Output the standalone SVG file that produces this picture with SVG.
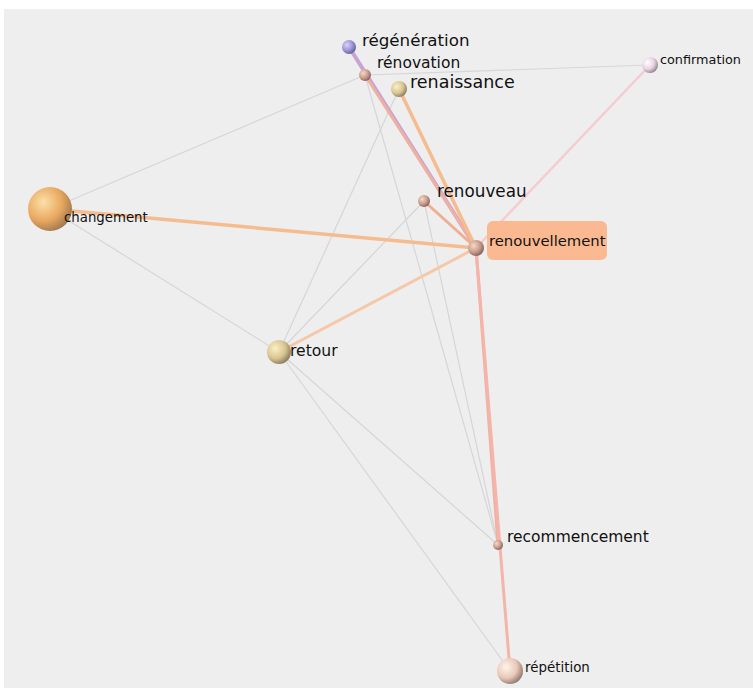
<svg xmlns="http://www.w3.org/2000/svg" width="753" height="688" viewBox="0 0 753 688">
<defs>
<radialGradient id="gOrange" cx="0.35" cy="0.35" r="0.7"><stop offset="0" stop-color="#fde0a8"/><stop offset="0.6" stop-color="#e8a860"/><stop offset="1" stop-color="#a07850"/></radialGradient>
<radialGradient id="gTan" cx="0.35" cy="0.35" r="0.7"><stop offset="0" stop-color="#fbf0c8"/><stop offset="0.6" stop-color="#d8c490"/><stop offset="1" stop-color="#8a7a60"/></radialGradient>
<radialGradient id="gBrown" cx="0.35" cy="0.35" r="0.7"><stop offset="0" stop-color="#f6d8c8"/><stop offset="0.6" stop-color="#c89a88"/><stop offset="1" stop-color="#806060"/></radialGradient>
<radialGradient id="gPurple" cx="0.35" cy="0.35" r="0.7"><stop offset="0" stop-color="#d8d4f8"/><stop offset="0.6" stop-color="#9a90d8"/><stop offset="1" stop-color="#60608a"/></radialGradient>
<radialGradient id="gPink" cx="0.35" cy="0.35" r="0.7"><stop offset="0" stop-color="#ffffff"/><stop offset="0.6" stop-color="#e8d0e0"/><stop offset="1" stop-color="#908090"/></radialGradient>
<radialGradient id="gLight" cx="0.35" cy="0.35" r="0.7"><stop offset="0" stop-color="#fff4ec"/><stop offset="0.6" stop-color="#e8c8b8"/><stop offset="1" stop-color="#907870"/></radialGradient>
</defs>
<style>
.lbl{font-family:"DejaVu Sans","Liberation Sans",Arial,sans-serif;fill:#111111;}
.e{fill:none;stroke-linecap:round;}
.g{stroke:#d6d6d6;stroke-width:1.2;}
.o{stroke:#f5bc90;stroke-width:3.5;}
.p{stroke:#f2b0a8;stroke-width:3;}
</style>
<rect x="0" y="0" width="753" height="688" fill="#ffffff"/>
<rect x="4" y="9" width="749" height="679" fill="#eeeeee"/>
<g id="connectors">
<line class="e g" x1="50" y1="209" x2="365" y2="75"/>
<line class="e g" x1="50" y1="209" x2="279" y2="352"/>
<line class="e g" x1="365" y1="75" x2="650" y2="65"/>
<line class="e g" x1="279" y1="352" x2="399" y2="89"/>
<line class="e g" x1="279" y1="352" x2="424" y2="201"/>
<line class="e g" x1="279" y1="352" x2="498" y2="545"/>
<line class="e g" x1="279" y1="352" x2="510" y2="671"/>
<line class="e g" x1="365" y1="75" x2="498" y2="545"/>
<line class="e g" x1="424" y1="201" x2="498" y2="545"/>
<line class="e o" x1="50" y1="209" x2="476" y2="248"/>
<line class="e" stroke="#c8a4d4" stroke-width="4" x1="349" y1="47" x2="476" y2="248"/>
<line class="e" stroke="#efb0a0" stroke-width="3" x1="365" y1="75" x2="476" y2="248"/>
<line class="e o" x1="399" y1="89" x2="476" y2="248"/>
<line class="e" stroke="#eeb090" stroke-width="3" x1="424" y1="201" x2="476" y2="248"/>
<line class="e" stroke="#f5ccd0" stroke-width="2.5" x1="650" y1="65" x2="476" y2="248"/>
<line class="e" stroke="#f5c8a8" stroke-width="3" x1="279" y1="352" x2="476" y2="248"/>
<line class="e p" x1="476" y1="248" x2="498" y2="545"/>
<line class="e" stroke="#f4b4a8" stroke-width="3" x1="476" y1="248" x2="510" y2="671"/>
</g>
<g id="node-renouvellement">
<rect x="487" y="221" width="120" height="39" rx="6" fill="#fbb992"/>
<circle cx="476" cy="248" r="8" fill="url(#gBrown)"/>
<text class="lbl" x="489" y="246" font-size="14.8">renouvellement</text>
</g>
<g id="node-changement">
<circle cx="50" cy="209" r="22" fill="url(#gOrange)"/>
<text class="lbl" x="64" y="222" font-size="13.3">changement</text>
</g>
<g id="node-regeneration">
<circle cx="349" cy="47" r="7" fill="url(#gPurple)"/>
<text class="lbl" x="362" y="46" font-size="16.7">régénération</text>
</g>
<g id="node-renovation">
<circle cx="365" cy="75" r="6" fill="url(#gBrown)"/>
<text class="lbl" x="377" y="67.5" font-size="15.5">rénovation</text>
</g>
<g id="node-renaissance">
<circle cx="399" cy="89" r="8" fill="url(#gTan)"/>
<text class="lbl" x="410" y="88" font-size="17.5">renaissance</text>
</g>
<g id="node-confirmation">
<circle cx="650" cy="65" r="8" fill="url(#gPink)"/>
<text class="lbl" x="660" y="64" font-size="12.8">confirmation</text>
</g>
<g id="node-renouveau">
<circle cx="424" cy="201" r="6" fill="url(#gBrown)"/>
<text class="lbl" x="437" y="197" font-size="16.8">renouveau</text>
</g>
<g id="node-retour">
<circle cx="279" cy="352" r="12" fill="url(#gTan)"/>
<text class="lbl" x="290" y="356" font-size="15.6">retour</text>
</g>
<g id="node-recommencement">
<circle cx="498" cy="545" r="5" fill="url(#gBrown)"/>
<text class="lbl" x="507" y="542" font-size="15.5">recommencement</text>
</g>
<g id="node-repetition">
<circle cx="510" cy="671" r="13" fill="url(#gLight)"/>
<text class="lbl" x="525" y="672" font-size="13.4">répétition</text>
</g>
</svg>
